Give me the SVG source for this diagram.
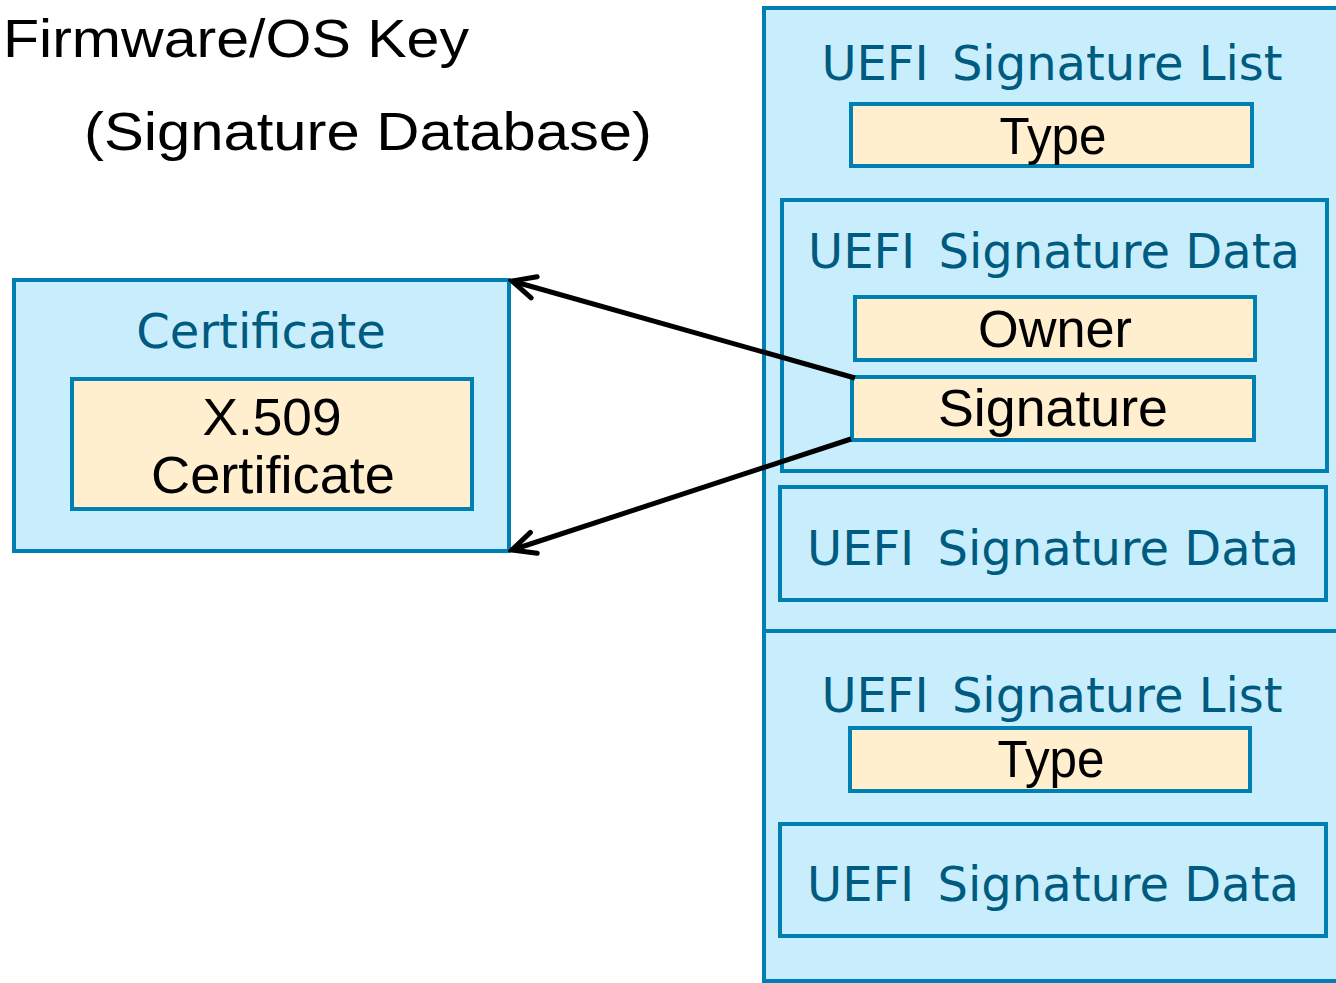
<svg xmlns="http://www.w3.org/2000/svg" width="1336" height="983" viewBox="0 0 1336 983">
  <style>
    .box { fill: #C8EEFD; stroke: #0080B2; stroke-width: 4; }
    .field { fill: #FFEFCF; stroke: #0080B2; stroke-width: 4; }
    .hdr { font-family: "DejaVu Sans", Verdana, sans-serif; font-size: 48px; fill: #005B80; text-anchor: middle; }
    .lbl { font-family: "Liberation Sans", Arial, sans-serif; font-size: 51px; fill: #000; text-anchor: middle; }
    .title { font-family: "Liberation Sans", Arial, sans-serif; font-size: 54px; fill: #000; }
    .conn { stroke: #000; stroke-width: 5; fill: none; }
  </style>
  <defs>
    <marker id="arrow" markerWidth="30" markerHeight="30" refX="26" refY="15" orient="auto" markerUnits="userSpaceOnUse" viewBox="0 0 30 30">
      <path d="M3 4 L26 15 L3 26" fill="none" stroke="#000" stroke-width="5" stroke-linecap="round" stroke-linejoin="miter"/>
    </marker>
  </defs>

  <rect width="1336" height="983" fill="#FFFFFF"/>

  <g id="title">
    <text class="title" x="3" y="57" textLength="466" lengthAdjust="spacingAndGlyphs">Firmware/OS Key</text>
    <text class="title" x="84" y="150" textLength="568" lengthAdjust="spacingAndGlyphs">(Signature Database)</text>
  </g>

  <g id="certificate">
    <rect class="box" x="14" y="280" width="495" height="271"/>
    <text class="hdr" x="261" y="348">Certificate</text>
    <g id="x509">
      <rect class="field" x="72" y="379" width="400" height="130"/>
      <text class="lbl" x="272" y="435" textLength="139" lengthAdjust="spacingAndGlyphs">X.509</text>
      <text class="lbl" x="273" y="493" textLength="244" lengthAdjust="spacingAndGlyphs">Certificate</text>
    </g>
  </g>

  <g id="database">
    <rect class="box" x="764" y="8" width="580" height="973"/>
    <line x1="764" y1="631" x2="1340" y2="631" stroke="#0080B2" stroke-width="4"/>

    <g id="list1">
      <text class="hdr" x="1052" y="80">UEFI <tspan dx="8">Signature List</tspan></text>
      <g id="list1-type">
        <rect class="field" x="851" y="104" width="401" height="62"/>
        <text class="lbl" x="1053" y="154" textLength="107" lengthAdjust="spacingAndGlyphs">Type</text>
      </g>
      <g id="list1-data1">
        <rect class="box" x="782" y="200" width="545" height="271"/>
        <text class="hdr" x="1054" y="268">UEFI <tspan dx="8">Signature Data</tspan></text>
        <g id="owner">
          <rect class="field" x="855" y="297" width="400" height="63"/>
          <text class="lbl" x="1055" y="347" textLength="154" lengthAdjust="spacingAndGlyphs">Owner</text>
        </g>
        <g id="signature">
          <rect class="field" x="852" y="377" width="402" height="63"/>
          <text class="lbl" x="1053" y="426" textLength="230" lengthAdjust="spacingAndGlyphs">Signature</text>
        </g>
      </g>
      <g id="list1-data2">
        <rect class="box" x="780" y="487" width="546" height="113"/>
        <text class="hdr" x="1053" y="565">UEFI <tspan dx="8">Signature Data</tspan></text>
      </g>
    </g>

    <g id="list2">
      <text class="hdr" x="1052" y="712">UEFI <tspan dx="8">Signature List</tspan></text>
      <g id="list2-type">
        <rect class="field" x="850" y="728" width="400" height="63"/>
        <text class="lbl" x="1051" y="777" textLength="107" lengthAdjust="spacingAndGlyphs">Type</text>
      </g>
      <g id="list2-data">
        <rect class="box" x="780" y="824" width="546" height="112"/>
        <text class="hdr" x="1053" y="901">UEFI <tspan dx="8">Signature Data</tspan></text>
      </g>
    </g>
  </g>

  <g id="connectors">
    <line class="conn" x1="855" y1="378" x2="512" y2="281" marker-end="url(#arrow)"/>
    <line class="conn" x1="851" y1="439" x2="512" y2="550" marker-end="url(#arrow)"/>
  </g>
</svg>
